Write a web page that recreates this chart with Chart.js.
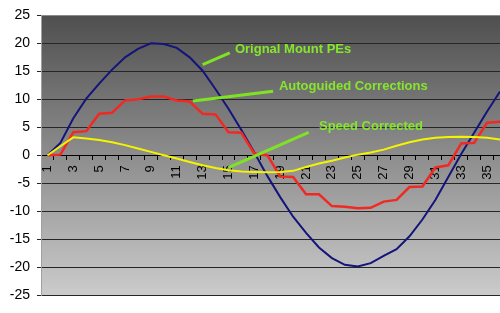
<!DOCTYPE html>
<html>
<head>
<meta charset="utf-8">
<script src="https://cdn.jsdelivr.net/npm/chart.js@4.4.1/dist/chart.umd.min.js"></script>
<style>
  html, body { margin: 0; padding: 0; background: #fff; }
  #wrap { width: 500px; height: 313px; }
</style>
</head>
<body>
<div id="wrap"><canvas id="chart" width="500" height="313"></canvas></div>
<script>
// sample number along the worm period
const categories = [1, 2, 3, 4, 5, 6, 7, 8, 9, 10, 11, 12, 13, 14, 15, 16, 17, 18,
  19, 20, 21, 22, 23, 24, 25, 26, 27, 28, 29, 30, 31, 32, 33, 34, 35, 36];

// arc seconds
const mountPE = [0, 2.2, 6.6, 10.1, 12.8, 15.3, 17.5, 19.0, 20.0, 19.9, 19.2, 17.5,
  15.1, 11.8, 8.3, 4.5, 0.5, -3.7, -7.5, -11.0, -13.9, -16.5, -18.4, -19.6,
  -19.9, -19.3, -18.0, -16.8, -14.5, -11.5, -8.0, -3.9, 0.2, 4.0, 7.8, 11.4];
const autoguided = [0, 0.1, 4.1, 4.3, 7.4, 7.6, 9.8, 10.0, 10.5, 10.5, 9.8, 9.6,
  7.4, 7.3, 4.1, 4.0, 0.3, 0, -3.8, -3.9, -7.0, -7.0, -9.1, -9.2,
  -9.5, -9.4, -8.3, -8.0, -5.7, -5.6, -2.2, -1.8, 2.1, 2.2, 5.8, 6.0];
const speedCorrected = [0, 1.6, 3.2, 3.0, 2.7, 2.3, 1.8, 1.2, 0.6, 0.0, -0.6, -1.2,
  -1.8, -2.3, -2.7, -2.9, -3.0, -3.05, -3.0, -2.8, -2.1, -1.5, -1.0, -0.4,
  0.1, 0.5, 1.0, 1.7, 2.3, 2.8, 3.1, 3.25, 3.3, 3.25, 3.1, 2.8];

const yTicks = [-25, -20, -15, -10, -5, 0, 5, 10, 15, 20, 25];

// green callouts, in data units (x = sample, y = value)
const callouts = [
  { text: 'Orignal Mount PEs', at: [15.5, 18.9], from: [13.0, 16.2], to: [15.1, 18.3] },
  { text: 'Autoguided Corrections', at: [18.9, 12.3], from: [12.25, 9.7], to: [18.45, 11.45] },
  { text: 'Speed Corrected', at: [22.0, 5.1], from: [15.0, -2.2], to: [21.2, 4.1] }
];

const toPoints = arr => arr.map((v, i) => ({ x: categories[i], y: v }));

const plotBackground = {
  id: 'plotBackground',
  beforeDraw(chart) {
    const { ctx, chartArea: a } = chart;
    const g = ctx.createLinearGradient(0, a.top, 0, a.bottom);
    g.addColorStop(0, '#4f4f4f');
    g.addColorStop(1, '#cbcbcb');
    ctx.save();
    ctx.fillStyle = g;
    ctx.fillRect(a.left, a.top, a.right - a.left, a.bottom - a.top);
    ctx.restore();
  }
};

const calloutPlugin = {
  id: 'callouts',
  afterDatasetsDraw(chart) {
    const { ctx, scales: { x, y } } = chart;
    ctx.save();
    ctx.strokeStyle = '#7fe324';
    ctx.lineWidth = 3;
    ctx.fillStyle = '#86e62c';
    ctx.font = 'bold 13px "Liberation Sans", Arial, sans-serif';
    ctx.textBaseline = 'middle';
    ctx.textAlign = 'left';
    callouts.forEach(c => {
      ctx.beginPath();
      ctx.moveTo(x.getPixelForValue(c.from[0]), y.getPixelForValue(c.from[1]));
      ctx.lineTo(x.getPixelForValue(c.to[0]), y.getPixelForValue(c.to[1]));
      ctx.stroke();
      ctx.fillText(c.text, x.getPixelForValue(c.at[0]), y.getPixelForValue(c.at[1]));
    });
    ctx.restore();
  }
};

new Chart(document.getElementById('chart'), {
  type: 'line',
  data: {
    datasets: [
      { label: 'Orignal Mount PEs', data: toPoints(mountPE), borderColor: '#14147a', borderWidth: 2, order: 3 },
      { label: 'Autoguided Corrections', data: toPoints(autoguided), borderColor: '#f02a22', borderWidth: 2.5, order: 2 },
      { label: 'Speed Corrected', data: toPoints(speedCorrected), borderColor: '#f4f400', borderWidth: 2, order: 1 }
    ]
  },
  options: {
    responsive: false,
    animation: false,
    devicePixelRatio: 1,
    elements: { point: { radius: 0 }, line: { tension: 0 } },
    layout: { padding: { top: 10, right: 0, bottom: 18, left: 0 } },
    plugins: { legend: { display: false }, tooltip: { enabled: false } },
    scales: {
      x: {
        type: 'linear',
        min: 0.5,
        max: 36,
        position: { y: 0 },
        afterBuildTicks: s => { s.ticks = categories.map(v => ({ value: v })); },
        afterFit: s => {
          s.height = 0;
          s.paddingLeft = 0;
          s.paddingRight = 0;
        },
        ticks: {
          autoSkip: false,
          minRotation: 90,
          maxRotation: 90,
          padding: 6,
          color: '#000',
          font: { family: '"Liberation Sans", Arial, sans-serif', size: 13 },
          callback: v => (v % 2 === 1 ? String(v) : '')
        },
        grid: { offset: true, drawOnChartArea: false, drawTicks: true, tickLength: 4, color: '#000' },
        border: { display: true, color: '#000', width: 1 }
      },
      y: {
        min: -25,
        max: 25,
        afterBuildTicks: s => { s.ticks = yTicks.map(v => ({ value: v })); },
        afterFit: s => { s.width = 41; },
        ticks: {
          padding: 7,
          color: '#000',
          font: { family: '"Liberation Sans", Arial, sans-serif', size: 14 }
        },
        grid: {
          color: ctx => (ctx.tick && ctx.tick.value === 25 ? '#8a8a8a' : '#262626'),
          tickColor: '#262626',
          tickLength: 4
        },
        border: { color: '#a0a0a0' }
      }
    }
  },
  plugins: [plotBackground, calloutPlugin]
});
</script>
</body>
</html>
